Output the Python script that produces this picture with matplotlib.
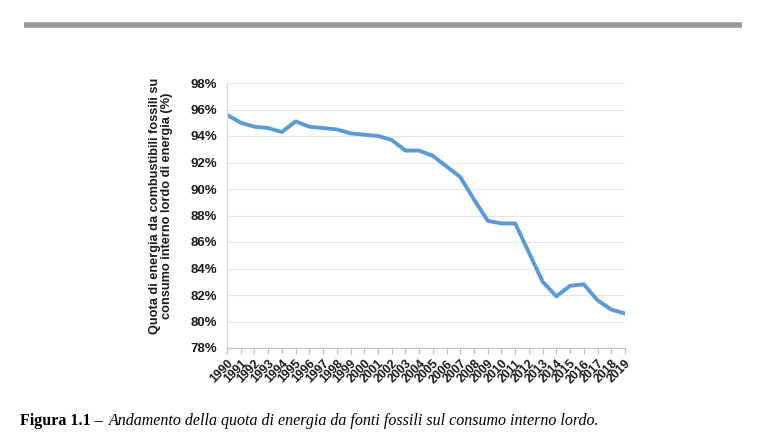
import numpy as np
import matplotlib
matplotlib.use("Agg")
import matplotlib.pyplot as plt
from matplotlib.ticker import FuncFormatter

# share of fossil fuels in gross inland energy consumption (%)
years = list(range(1990, 2020))
share = [95.6, 95.0, 94.7, 94.6, 94.3, 95.1, 94.7, 94.6, 94.5, 94.2,
         94.1, 94.0, 93.7, 92.9, 92.9, 92.5, 91.7, 90.9, 89.2, 87.6,
         87.4, 87.4, 85.2, 83.0, 81.9, 82.7, 82.8, 81.6, 80.9, 80.6]
year_labels = [str(y) for y in years]

plt.rcParams['font.family'] = ['Liberation Sans', 'DejaVu Sans']

fig = plt.figure(figsize=(7.68, 4.45), dpi=100)

# grey rule at the top of the page
fig.add_artist(plt.Line2D([24 / 768, 742 / 768], [1 - 25 / 445, 1 - 25 / 445],
                          color='#999999', lw=4.0, solid_capstyle='butt'))

ax = fig.add_axes([227 / 768, 1 - 348 / 445, (625 - 227) / 768, (348 - 83) / 445])

x = np.arange(len(years))
ax.plot(x, share, color='#5b9bd5', lw=2.8, solid_joinstyle='round')

ax.set_xlim(0, len(years) - 1)
ax.set_ylim(78, 98)
ax.set_yticks(np.arange(78, 99, 2))
ax.yaxis.set_major_formatter(FuncFormatter(lambda v, p: f"{v:.0f}%"))
ax.set_xticks(x)
ax.set_xticklabels(year_labels, rotation=45, ha='right', rotation_mode='anchor',
                   fontsize=8.8, fontweight='bold', color='#1a1a1a')
for lab in ax.get_yticklabels():
    lab.set_fontweight('bold')
    lab.set_fontsize(9.5)
    lab.set_color('#1a1a1a')

ax.grid(axis='y', color='#e6e6e6', lw=0.8)
ax.set_axisbelow(True)
for s in ['top', 'right']:
    ax.spines[s].set_visible(False)
ax.spines['left'].set_color('#d9d9d9')
ax.spines['bottom'].set_color('#bfbfbf')
ax.tick_params(axis='y', length=0, pad=7)
ax.tick_params(axis='x', length=4, color='#bfbfbf', pad=3)

ax.set_ylabel("Quota di energia da combustibili fossili su\nconsumo interno lordo di energia (%)",
              fontsize=9.2, fontweight='bold', linespacing=1.0,
              color='#1a1a1a', va='center', ha='center')
ax.yaxis.set_label_coords(-0.166, 0.536)

# caption below the chart
cy = 1 - 421 / 445
t1 = fig.text(20 / 768, cy, "Figura 1.1 \u2013 ", family='Liberation Serif',
              fontweight='bold', fontsize=11.5, va='center')
fig.canvas.draw()
bb = t1.get_window_extent()
fig.text(bb.x1 / fig.bbox.width + 2 / 768, cy,
         "Andamento della quota di energia da fonti fossili sul consumo interno lordo.",
         family='Liberation Serif', style='italic', fontsize=11.5, va='center')

fig.savefig("out.png", dpi=100)
